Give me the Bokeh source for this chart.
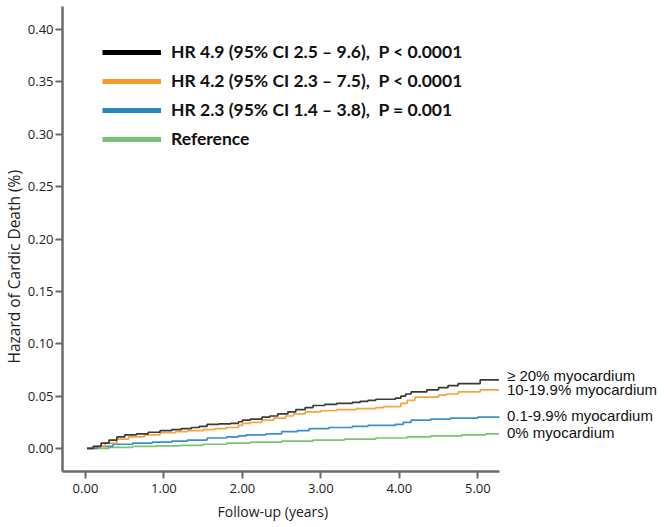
from bokeh.plotting import figure
from bokeh.models import Range1d, FixedTicker, Legend, LegendItem, Label, NumeralTickFormatter, Title
from bokeh.embed import file_html
from bokeh.resources import INLINE

# ---- data ----
t_ge20 = [0.02, 0.10, 0.20, 0.30, 0.40, 0.50, 0.65, 0.80, 0.95, 1.10, 1.22, 1.35, 1.45, 1.55, 1.70,
          1.85, 1.95, 2.00, 2.10, 2.25, 2.35, 2.45, 2.58, 2.68, 2.80, 2.90, 3.05, 3.20, 3.40, 3.50,
          3.60, 3.70, 3.95, 4.02, 4.08, 4.15, 4.35, 4.50, 4.62, 4.75, 5.03, 5.27]
h_ge20 = [0.000, 0.002, 0.005, 0.008, 0.011, 0.013, 0.014, 0.0155, 0.017, 0.018, 0.019, 0.020, 0.021,
          0.023, 0.0235, 0.024, 0.0255, 0.027, 0.028, 0.030, 0.031, 0.033, 0.035, 0.037, 0.039, 0.041,
          0.042, 0.043, 0.044, 0.045, 0.046, 0.047, 0.048, 0.050, 0.052, 0.054, 0.056, 0.058, 0.060,
          0.062, 0.0655, 0.0655]

t_10_19 = [0.02, 0.10, 0.25, 0.40, 0.55, 0.75, 0.95, 1.15, 1.30, 1.50, 1.65, 1.80, 1.95, 2.00, 2.10,
           2.25, 2.40, 2.55, 2.65, 2.80, 3.00, 3.20, 3.45, 3.70, 3.80, 4.02, 4.10, 4.20, 4.50, 4.60,
           4.75, 5.03, 5.27]
h_10_19 = [0.000, 0.002, 0.005, 0.009, 0.011, 0.013, 0.015, 0.016, 0.017, 0.018, 0.019, 0.020, 0.022,
           0.024, 0.025, 0.027, 0.029, 0.031, 0.033, 0.035, 0.036, 0.037, 0.038, 0.039, 0.040, 0.043,
           0.046, 0.049, 0.051, 0.052, 0.054, 0.056, 0.056]

t_01_99 = [0.02, 0.15, 0.35, 0.60, 0.85, 1.10, 1.30, 1.55, 1.80, 1.95, 2.05, 2.30, 2.50, 2.70, 2.85,
           3.10, 3.40, 3.60, 3.95, 4.05, 4.15, 4.40, 4.65, 5.00, 5.27]
h_01_99 = [0.000, 0.002, 0.004, 0.005, 0.006, 0.007, 0.008, 0.010, 0.011, 0.012, 0.013, 0.014, 0.016,
           0.017, 0.019, 0.020, 0.021, 0.022, 0.023, 0.025, 0.027, 0.028, 0.029, 0.030, 0.0305]

t_0 = [0.02, 0.30, 0.60, 0.90, 1.20, 1.50, 1.80, 2.10, 2.50, 2.90, 3.30, 3.70, 4.10, 4.40, 4.80, 5.10, 5.27]
h_0 = [0.000, 0.001, 0.002, 0.0025, 0.003, 0.004, 0.005, 0.006, 0.007, 0.008, 0.009, 0.010, 0.011,
       0.012, 0.013, 0.014, 0.014]

group_names = ["\u2265 20% myocardium", "10-19.9% myocardium", "0.1-9.9% myocardium", "0% myocardium"]
legend_labels = ["HR 4.9 (95% CI 2.5 \u2013 9.6),  P < 0.0001",
                 "HR 4.2 (95% CI 2.3 \u2013 7.5),  P < 0.0001",
                 "HR 2.3 (95% CI 1.4 \u2013 3.8),  P = 0.001",
                 "Reference"]
x_ticks = [0, 1, 2, 3, 4, 5]
y_ticks = [0.00, 0.05, 0.10, 0.15, 0.20, 0.25, 0.30, 0.35, 0.40]

curve_colors = ["#3a3a3a", "#f7a440", "#3d8fca", "#7cc472"]
legend_colors = ["#000000", "#f89b28", "#2a86b6", "#78c275"]

# ---- figure ----
p = figure(width=664, height=527, output_backend="svg", toolbar_location=None,
           x_range=Range1d(-0.2926, 7.379), y_range=Range1d(-0.022, 0.422),
           min_border_left=61, min_border_right=0, min_border_top=6, min_border_bottom=56)
p.outline_line_color = None
p.xgrid.visible = False
p.ygrid.visible = False
p.background_fill_color = "white"

axis_col = "#6b6b6b"
for ax in (p.xaxis[0], p.yaxis[0]):
    ax.axis_line_color = axis_col
    ax.axis_line_width = 2.5
    ax.major_tick_line_color = axis_col
    ax.major_tick_line_width = 2
    ax.major_tick_out = 7
    ax.major_tick_in = 0
    ax.minor_tick_line_color = None
    ax.major_label_text_font = "Open Sans"
    ax.major_label_text_font_size = "13px"
    ax.major_label_text_color = "#222222"
    ax.formatter = NumeralTickFormatter(format="0.00")

p.xaxis[0].ticker = FixedTicker(ticks=x_ticks)
p.yaxis[0].ticker = FixedTicker(ticks=y_ticks)
p.xaxis[0].bounds = (-0.2926, 5.27)
p.xaxis[0].major_label_standoff = 5
p.yaxis[0].major_label_standoff = 2

# axis titles placed as Titles so they can be offset like the reference
p.add_layout(Title(text="Follow-up (years)", align="left", offset=155, standoff=9,
                   text_font="Open Sans", text_font_style="normal", text_font_size="14px",
                   text_color="#222222"), "below")
p.add_layout(Title(text="Hazard of Cardic Death (%)", align="left", offset=108, standoff=0,
                   text_font="Open Sans", text_font_style="normal", text_font_size="15.5px",
                   text_color="#222222"), "left")

series = [(t_ge20, h_ge20), (t_10_19, h_10_19), (t_01_99, h_01_99), (t_0, h_0)]
# draw reference first so darker lines sit on top
for i in [3, 2, 1, 0]:
    t, h = series[i]
    p.step(t, h, mode="after", line_width=1.7, line_color=curve_colors[i])

# end-of-curve labels
y_offs = [4, 0, 1, 1]
for i, (t, h) in enumerate(series):
    p.add_layout(Label(x=t[-1], y=h[-1], x_offset=8, y_offset=y_offs[i], text=group_names[i],
                       text_baseline="middle", text_font="Liberation Sans",
                       text_font_size="15px", text_color="#111111"))

# legend with thick sample lines (proxy renderers holding a single NaN point)
nan = float("nan")
items = []
for i, lab in enumerate(legend_labels):
    r = p.line([nan], [nan], line_width=5, line_color=legend_colors[i])
    items.append(LegendItem(label=lab, renderers=[r]))
legend = Legend(items=items, location=(40, 322), glyph_width=59, glyph_height=20,
                label_height=20, spacing=8, label_standoff=10, padding=0, margin=0,
                border_line_color=None, background_fill_alpha=0,
                label_text_font="Lato", label_text_font_style="bold",
                label_text_font_size="17.5px", label_text_color="#111111")
p.add_layout(legend)

open("out.html", "w").write(file_html(p, INLINE))
